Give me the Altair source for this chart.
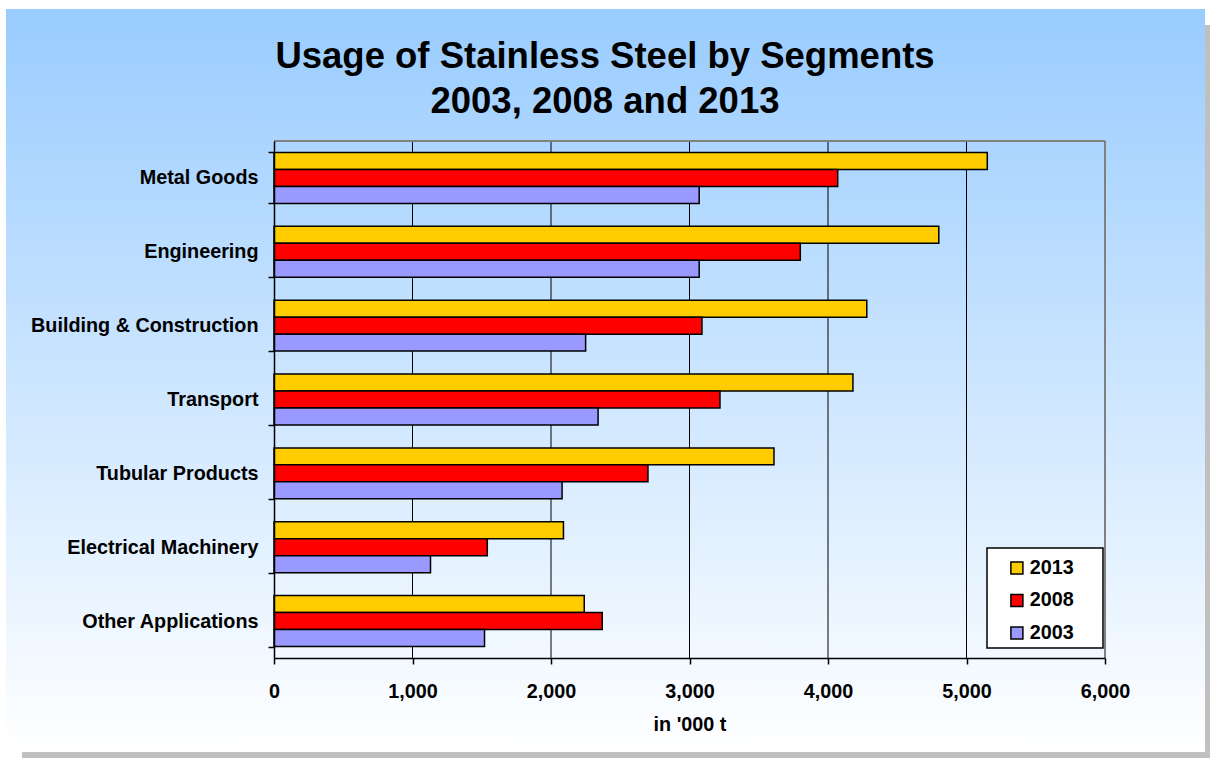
import altair as alt
import pandas as pd

# ---------------- data ----------------
categories = [
    "Metal Goods",
    "Engineering",
    "Building & Construction",
    "Transport",
    "Tubular Products",
    "Electrical Machinery",
    "Other Applications",
]
years = ["2013", "2008", "2003"]
values_2013 = [5150, 4800, 4280, 4180, 3610, 2090, 2240]
values_2008 = [4070, 3800, 3090, 3220, 2700, 1540, 2370]
values_2003 = [3070, 3070, 2250, 2340, 2080, 1130, 1520]
year_colors = ["#FFCC00", "#FF0000", "#9999FF"]
x_ticks = [0, 1000, 2000, 3000, 4000, 5000, 6000]
grid_values = [1000, 2000, 3000, 4000, 5000]
title_lines = ["Usage of Stainless Steel by Segments", "2003, 2008 and 2013"]
x_title = "in '000 t"

rows = []
for yr, vals in zip(years, [values_2013, values_2008, values_2003]):
    for cat, v in zip(categories, vals):
        rows.append({"segment": cat, "year": yr, "value": v})
df = pd.DataFrame(rows)

# ---------------- layout ----------------
FONT = "Liberation Sans"
LFS = 19.8
LEFT, TOP = 274, 141
W, H = 831, 517
PAD = {"left": LEFT, "top": TOP, "right": 1210 - LEFT - W, "bottom": 758 - TOP - H}
XDOM = [0, 6000]
xscale = alt.Scale(domain=XDOM, nice=False)

xaxis = alt.Axis(
    values=x_ticks, format=",d", title=x_title, grid=False, zindex=1,
    labelFont=FONT, labelFontSize=LFS, labelFontWeight="bold", labelColor="black",
    labelPadding=17, labelFlush=False, labelOverlap=False,
    tickSize=6, tickColor="black", tickWidth=1.5,
    domainColor="black", domainWidth=1.5,
    titleFont=FONT, titleFontSize=LFS, titleFontWeight="bold", titleColor="black",
    titlePadding=14,
)

one = alt.Data(values=[{"k": 1}])

shadow = alt.Chart(one).mark_rect(fill="#C0C0C0").encode(
    x=alt.value(22 - LEFT), x2=alt.value(1210 - LEFT),
    y=alt.value(25 - TOP), y2=alt.value(758 - TOP),
)

grad = alt.LinearGradient(
    gradient="linear",
    stops=[alt.GradientStop(color="#99CCFF", offset=0),
           alt.GradientStop(color="#FFFFFF", offset=1)],
    x1=0, x2=0, y1=0, y2=1,
)
panel = alt.Chart(one).mark_rect(fill=grad).encode(
    x=alt.value(6 - LEFT), x2=alt.value(1205 - LEFT),
    y=alt.value(9 - TOP), y2=alt.value(752 - TOP),
)

grid = alt.Chart(pd.DataFrame({"value": grid_values})).mark_rule(
    color="black", strokeWidth=1
).encode(x=alt.X("value:Q", scale=xscale, axis=xaxis))

border_right = alt.Chart(pd.DataFrame({"value": [XDOM[1]]})).mark_rule(
    color="#808080", strokeWidth=2
).encode(x=alt.X("value:Q", scale=xscale, axis=xaxis))

border_top = alt.Chart(pd.DataFrame({"value": [XDOM[0]], "b": [XDOM[1]]})).mark_rule(
    color="#808080", strokeWidth=2
).encode(
    x=alt.X("value:Q", scale=xscale, axis=xaxis),
    x2="b:Q",
    y=alt.value(0),
)

# legend frame (white box with black border)
legend_box = alt.Chart(one).mark_rect(fill="white", stroke="black", strokeWidth=1.5).encode(
    x=alt.value(987 - LEFT), x2=alt.value(1103 - LEFT),
    y=alt.value(548 - TOP), y2=alt.value(648 - TOP),
)

title1 = alt.Chart(alt.Data(values=[{"t": title_lines[0]}])).mark_text(
    font=FONT, fontSize=36.5, fontWeight="bold", color="black",
    align="center", baseline="alphabetic",
).encode(text="t:N", x=alt.value(605 - LEFT), y=alt.value(68 - TOP))

title2 = alt.Chart(alt.Data(values=[{"t": title_lines[1]}])).mark_text(
    font=FONT, fontSize=36.5, fontWeight="bold", color="black",
    align="center", baseline="alphabetic",
).encode(text="t:N", x=alt.value(605 - LEFT), y=alt.value(113 - TOP))

bars = alt.Chart(df).mark_bar(stroke="black", strokeWidth=1.5, opacity=1).encode(
    x=alt.X("value:Q", scale=xscale, axis=xaxis),
    y=alt.Y(
        "segment:N",
        sort=categories,
        scale=alt.Scale(paddingInner=0.31, paddingOuter=0.155),
        axis=alt.Axis(
            title=None, grid=False, zindex=1, tickBand="extent",
            labelFont=FONT, labelFontSize=LFS, labelFontWeight="bold", labelColor="black",
            labelPadding=10, labelLimit=400,
            tickSize=6, tickColor="black", tickWidth=1.5,
            domainColor="black", domainWidth=1.5,
        ),
    ),
    yOffset=alt.YOffset("year:N", sort=years, scale=alt.Scale(paddingInner=0, paddingOuter=0)),
    color=alt.Color(
        "year:N",
        sort=years,
        scale=alt.Scale(domain=years, range=year_colors),
        legend=alt.Legend(
            title=None, orient="none", legendX=713, legendY=409,
            padding=8,
            symbolType="square", symbolSize=144, symbolStrokeColor="black",
            symbolStrokeWidth=1.5, symbolOpacity=1, symbolOffset=12,
            labelOffset=3, rowPadding=11.5,
            labelFont=FONT, labelFontSize=LFS, labelFontWeight="bold", labelColor="black",
        ),
    ),
)

chart = alt.layer(
    shadow, panel, grid, border_right, border_top, bars, legend_box, title1, title2
).properties(
    width=W, height=H, padding=PAD,
    autosize=alt.AutoSizeParams(type="none"),
    background="white",
).configure_view(stroke=None)

chart.save("out.html", embed_options={"renderer": "svg", "actions": False})
